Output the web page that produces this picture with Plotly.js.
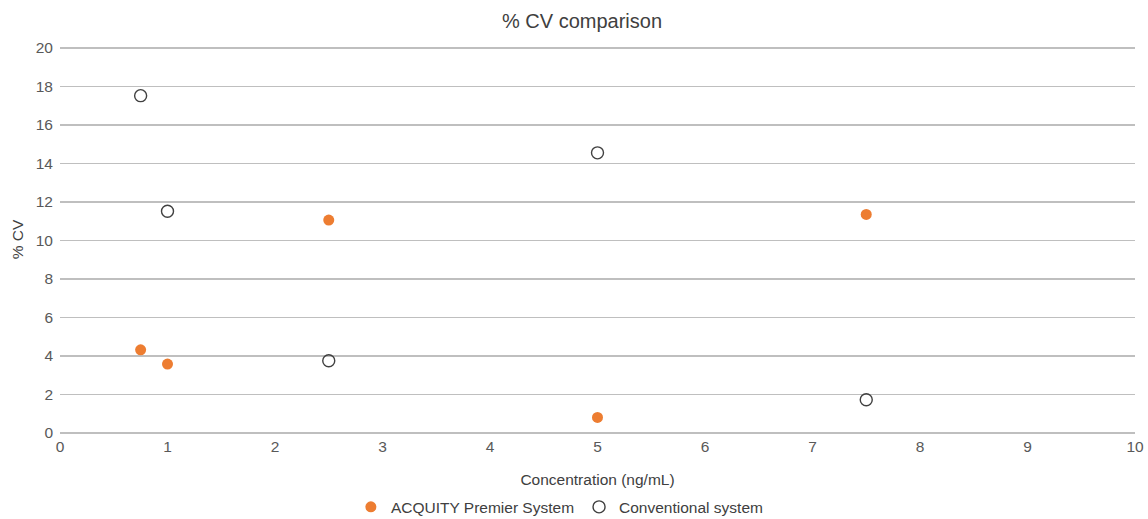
<!DOCTYPE html>
<html>
<head>
<meta charset="utf-8">
<script src="https://cdn.plot.ly/plotly-3.0.1.min.js"></script>
<style>html,body{margin:0;padding:0;background:#fff;}#chart{width:1148px;height:519px;}</style>
</head>
<body>
<div id="chart"></div>
<script>
const concentrations = [0.75, 1, 2.5, 5, 7.5];
const acquityCV = [4.32, 3.58, 11.06, 0.81, 11.35];
const conventionalCV = [17.52, 11.52, 3.75, 14.55, 1.73];
const seriesNames = ["ACQUITY Premier System", "Conventional system"];
const xTicks = [0,1,2,3,4,5,6,7,8,9,10];
const yTicks = [0,2,4,6,8,10,12,14,16,18,20];

const font = "Liberation Sans, Arial, sans-serif";
const traces = [
  {
    x: concentrations, y: acquityCV, name: seriesNames[0],
    type: "scatter", mode: "markers", cliponaxis: false,
    marker: {symbol: "circle", size: 11, color: "#ED7D31", line: {width: 0}}
  },
  {
    x: concentrations, y: conventionalCV, name: seriesNames[1],
    type: "scatter", mode: "markers", cliponaxis: false,
    marker: {symbol: "circle-open", size: 12, color: "#404040", line: {width: 1.4, color: "#404040"}}
  }
];
const layout = {
  width: 1148, height: 519,
  margin: {l: 60, r: 13, t: 45.5, b: 86, autoexpand: false},
  paper_bgcolor: "#fff", plot_bgcolor: "#fff",
  font: {family: font, color: "#595959", size: 15.5},
  title: {text: "% CV comparison", x: 0.507, xanchor: "center", y: 0.96, yanchor: "middle",
          font: {family: font, size: 20, color: "#404040"}},
  xaxis: {
    range: [0, 10], tickvals: xTicks, ticktext: xTicks.map(String),
    showgrid: false, zeroline: false, showline: false, ticks: "",
    ticklabelstandoff: 2,
    tickfont: {size: 15.5, color: "#595959"},
    title: {text: "Concentration (ng/mL)", font: {size: 15.5, color: "#404040"}, standoff: 20}
  },
  yaxis: {
    range: [0, 20.1], tickvals: yTicks, ticktext: yTicks.map(String),
    showgrid: true, gridcolor: "#BFBFBF", gridwidth: 1.3,
    zeroline: true, zerolinecolor: "#BFBFBF", zerolinewidth: 1.3,
    showline: false, ticks: "", ticklabelstandoff: 6,
    tickfont: {size: 15.5, color: "#595959"},
    title: {text: "% CV", font: {size: 15.5, color: "#404040"}, standoff: 8}
  },
  showlegend: true,
  legend: {orientation: "h", x: 0.465, xanchor: "center", y: -0.148, yanchor: "top",
           font: {size: 15.5, color: "#404040"}, itemwidth: 30, tracegroupgap: 0},
};
Plotly.newPlot("chart", traces, layout, {displayModeBar: false, staticPlot: true});
</script>
</body>
</html>
